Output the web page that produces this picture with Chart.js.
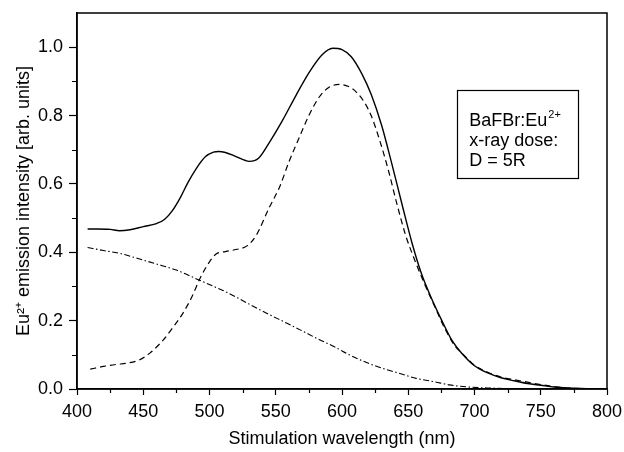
<!DOCTYPE html>
<html>
<head>
<meta charset="utf-8">
<script src="https://cdn.jsdelivr.net/npm/chart.js@4.4.1/dist/chart.umd.min.js"></script>
<style>
  html, body { margin: 0; padding: 0; background: #fff; }
  #wrap { width: 624px; height: 452px; }
</style>
</head>
<body>
<div id="wrap"><canvas id="c" width="624" height="452"></canvas></div>
<script>
// ---- Data ----
const totalX = [408,415,425,432,440,450,460,466,472,478,484,490,497,503,507,512,520,530,537,545,555,565,575,585,593,600,607,615,622,630,637,645,653,660,667,675,683,690,700,710,720,730,740,750,760,770,785];
const totalY = [0.468,0.468,0.467,0.463,0.466,0.475,0.484,0.496,0.522,0.560,0.606,0.645,0.680,0.693,0.695,0.692,0.680,0.666,0.675,0.720,0.785,0.857,0.925,0.978,0.997,0.993,0.972,0.922,0.862,0.770,0.668,0.545,0.425,0.337,0.270,0.203,0.142,0.106,0.068,0.047,0.033,0.024,0.016,0.011,0.006,0.003,0.001];

const dashedX = [410,420,430,437,447,455,465,472,480,487,493,500,505,512,520,528,535,545,553,560,568,575,583,590,598,605,611,617,622,628,635,641,648,655,662,670,678,685,692,700,710,720,730,740,750,760,770,785];
const dashedY = [0.058,0.066,0.072,0.075,0.085,0.105,0.143,0.178,0.222,0.272,0.325,0.372,0.395,0.402,0.408,0.418,0.448,0.530,0.592,0.665,0.738,0.800,0.855,0.882,0.891,0.885,0.868,0.838,0.800,0.733,0.640,0.548,0.450,0.376,0.310,0.241,0.174,0.127,0.099,0.069,0.049,0.035,0.027,0.020,0.013,0.007,0.003,0.001];

const dashDotX = [408,420,432,450,465,475,492,505,512,522,531,545,556,570,581,595,606,620,631,645,656,670,681,695,710,730,750,780];
const dashDotY = [0.414,0.405,0.397,0.377,0.360,0.348,0.319,0.297,0.285,0.265,0.246,0.218,0.197,0.170,0.148,0.122,0.099,0.075,0.060,0.044,0.031,0.021,0.012,0.006,0.003,0.001,0.000,0.000];

const xMajorTicks = [400,450,500,550,600,650,700,750,800];
const xMinorTicks = [425,475,525,575,625,675,725,775];
const yMajorTicks = [0.0,0.2,0.4,0.6,0.8,1.0];
const yMinorTicks = [0.1,0.3,0.5,0.7,0.9];

const xTitle = 'Stimulation wavelength (nm)';
const yTitle = 'Eu\u00B2\u207A emission intensity [arb. units]';
const boxLines = ['BaFBr:Eu', 'x-ray dose:', 'D = 5R'];
const boxSup = '2+';

const FONT = '"Liberation Sans", Arial, Helvetica, sans-serif';

function pts(xs, ys) { return xs.map((x, i) => ({x: x, y: ys[i]})); }

const framePlugin = {
  id: 'frame',
  afterDraw(chart) {
    const {ctx, chartArea: a, scales} = chart;
    const xs = scales.x, ys = scales.y;
    ctx.save();
    ctx.strokeStyle = '#000';
    ctx.lineWidth = 1.5;
    ctx.strokeRect(a.left, a.top, a.right - a.left, a.bottom - a.top);
    // minor ticks
    ctx.lineWidth = 1.2;
    ctx.beginPath();
    xMinorTicks.forEach(v => {
      const px = Math.round(xs.getPixelForValue(v)) + 0.5;
      ctx.moveTo(px, a.bottom); ctx.lineTo(px, a.bottom + 4);
    });
    yMinorTicks.forEach(v => {
      const py = Math.round(ys.getPixelForValue(v)) + 0.5;
      ctx.moveTo(a.left, py); ctx.lineTo(a.left - 5, py);
    });
    ctx.stroke();

    // annotation box
    const bx = xs.getPixelForValue(687), by = ys.getPixelForValue(0.874);
    const bx2 = xs.getPixelForValue(778), by2 = ys.getPixelForValue(0.617);
    ctx.lineWidth = 1.2;
    ctx.strokeRect(Math.round(bx) + 0.5, Math.round(by) + 0.5, Math.round(bx2 - bx), Math.round(by2 - by));
    ctx.fillStyle = '#000';
    ctx.textBaseline = 'alphabetic';
    ctx.textAlign = 'left';
    ctx.font = '18px ' + FONT;
    const tx = bx + 12;
    const base0 = by + 36;
    const lh = 20;
    ctx.fillText(boxLines[0], tx, base0);
    const w0 = ctx.measureText(boxLines[0]).width;
    ctx.fillText(boxLines[1], tx, base0 + lh);
    ctx.fillText(boxLines[2], tx, base0 + 2 * lh);
    ctx.font = '11px ' + FONT;
    ctx.fillText(boxSup, tx + w0 + 1, base0 - 8);
    ctx.restore();
  }
};

new Chart(document.getElementById('c'), {
  type: 'line',
  data: {
    datasets: [
      { label: 'total', data: pts(totalX, totalY), borderColor: '#000', borderWidth: 1.4, pointRadius: 0, fill: false, cubicInterpolationMode: 'monotone' },
      { label: 'component 1', data: pts(dashedX, dashedY), borderColor: '#000', borderWidth: 1.2, borderDash: [6, 4], pointRadius: 0, fill: false, cubicInterpolationMode: 'monotone' },
      { label: 'component 2', data: pts(dashDotX, dashDotY), borderColor: '#000', borderWidth: 1.1, borderDash: [6, 2.5, 1.5, 2.5], pointRadius: 0, fill: false, cubicInterpolationMode: 'monotone' }
    ]
  },
  options: {
    responsive: false,
    animation: false,
    events: [],
    layout: { padding: { left: 0, top: 13, right: 17, bottom: 0 } },
    plugins: { legend: { display: false }, tooltip: { enabled: false } },
    scales: {
      x: {
        type: 'linear', min: 400, max: 800,
        afterFit(s) { s.height = 63; s.paddingLeft = 0; s.paddingRight = 0; },
        afterBuildTicks(s) { s.ticks = xMajorTicks.map(v => ({value: v})); },
        ticks: { color: '#000', font: { size: 18, family: FONT }, padding: 6, maxRotation: 0, autoSkip: false },
        grid: { drawOnChartArea: false, tickLength: 6, tickWidth: 1.2, tickColor: '#000' },
        border: { color: '#000', width: 1.5 },
        title: { display: true, text: xTitle, color: '#000', font: { size: 18, family: FONT }, padding: { top: 0, bottom: 2 } }
      },
      y: {
        min: 0, max: 1.1,
        afterFit(s) { s.width = 77; s.paddingTop = 0; s.paddingBottom = 0; },
        afterBuildTicks(s) { s.ticks = yMajorTicks.map(v => ({value: v})); },
        ticks: { color: '#000', font: { size: 18, family: FONT }, padding: 6, callback: v => Number(v).toFixed(1) },
        grid: { drawOnChartArea: false, tickLength: 8, tickWidth: 1.2, tickColor: '#000' },
        border: { color: '#000', width: 1.5 },
        title: { display: true, text: yTitle, color: '#000', font: { size: 18, family: FONT }, padding: { top: 13, bottom: 0 } }
      }
    }
  },
  plugins: [framePlugin]
});
</script>
</body>
</html>
